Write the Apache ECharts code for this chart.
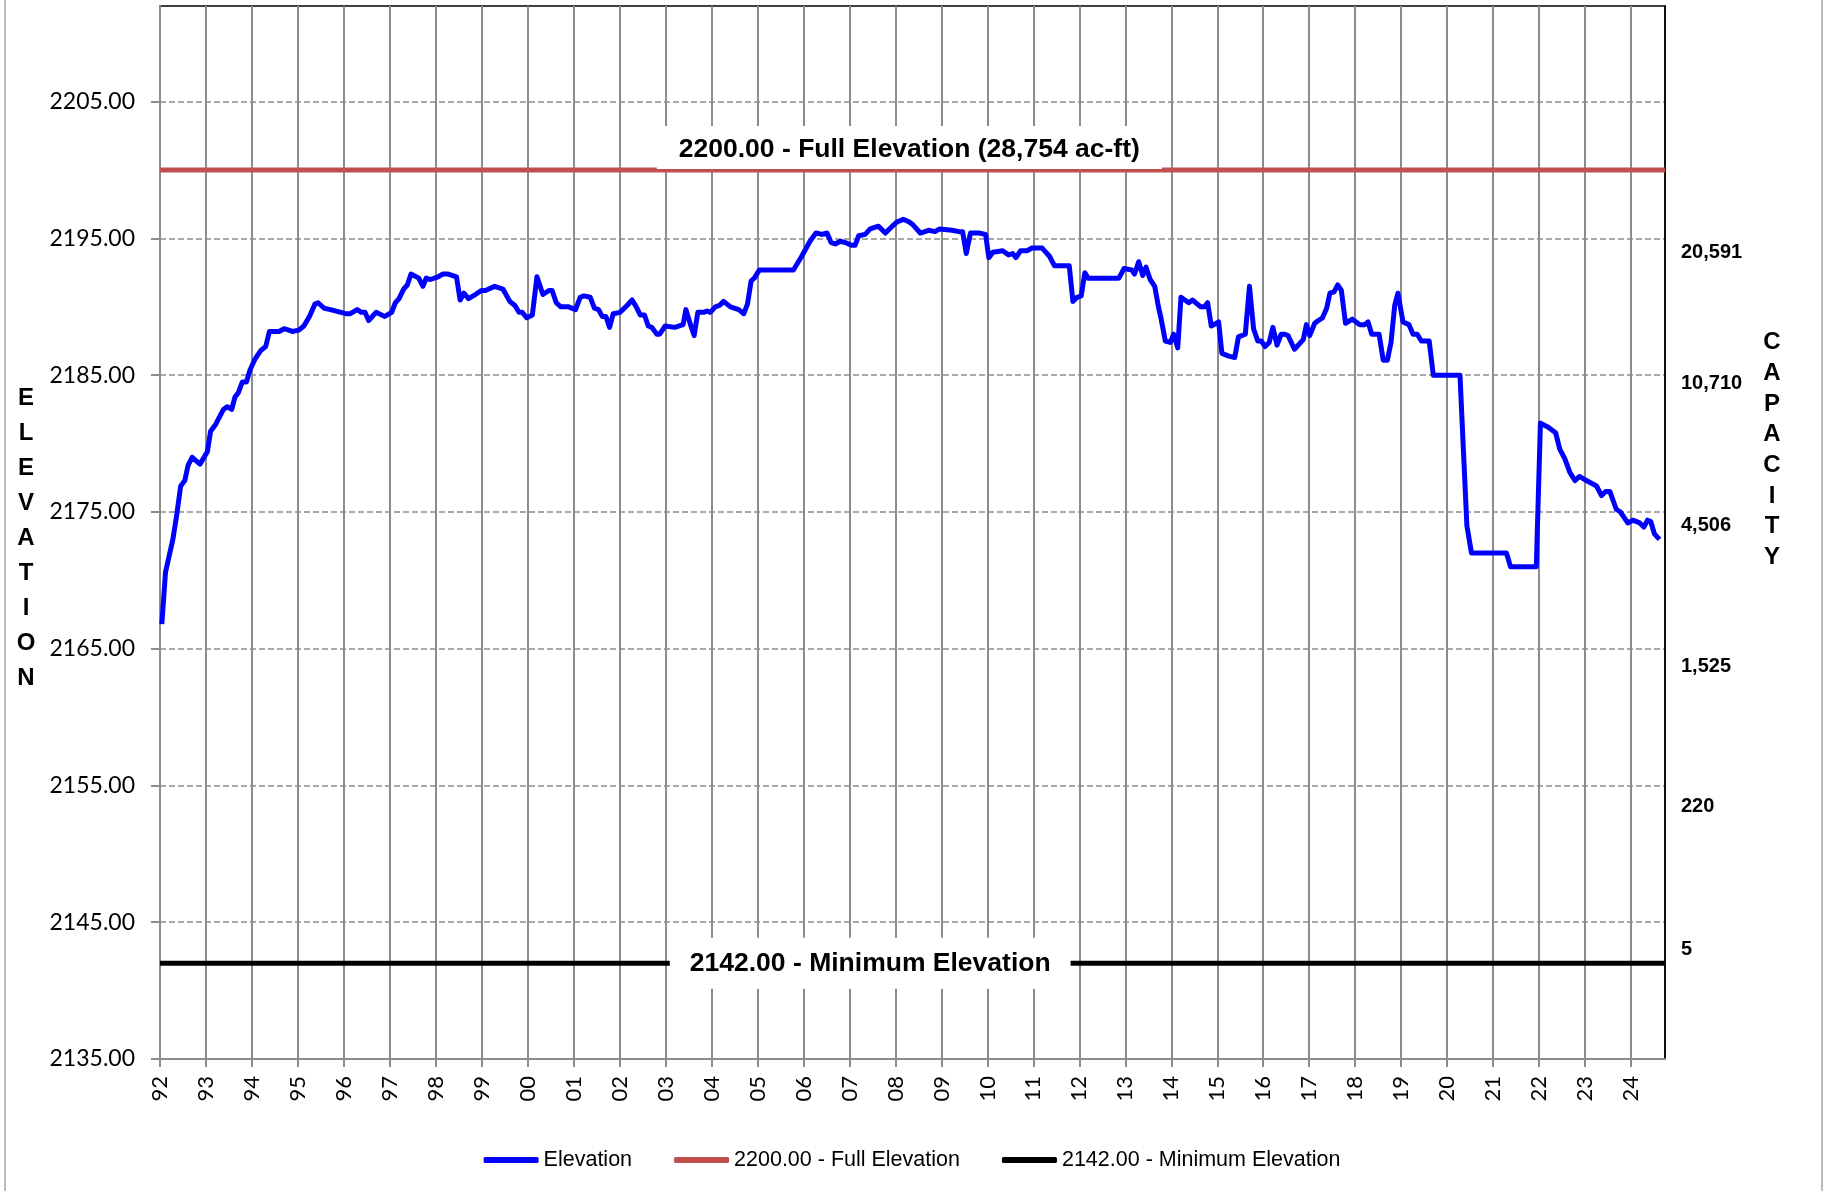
<!DOCTYPE html>
<html>
<head>
<meta charset="utf-8">
<script src="https://cdn.jsdelivr.net/npm/echarts@6/dist/echarts.min.js"></script>
<style>
html,body{margin:0;padding:0;background:#fff;}
#chart{width:1824px;height:1191px;}
</style>
</head>
<body>
<div id="chart"></div>
<script>
// ---- data ----
const years = [
1992.04,1992.12,1992.20,1992.28,1992.36,1992.45,1992.54,1992.61,1992.70,1992.87,
1993.03,1993.10,1993.21,1993.38,1993.46,1993.56,1993.63,1993.70,1993.79,1993.88,1993.96,
1994.07,1994.19,1994.30,1994.38,1994.59,1994.70,1994.88,
1995.02,1995.13,1995.25,1995.37,1995.44,1995.57,1995.71,
1996.04,1996.14,1996.29,1996.38,1996.46,1996.54,1996.70,1996.89,
1997.04,1997.12,1997.20,1997.30,1997.38,1997.46,1997.63,1997.72,1997.79,1997.88,
1998.05,1998.15,1998.27,1998.45,1998.53,1998.61,1998.71,1998.86,1998.99,
1999.08,1999.28,1999.46,1999.61,1999.72,1999.81,1999.88,1999.98,
2000.10,2000.20,2000.33,2000.46,2000.53,2000.62,2000.72,2000.89,
2001.04,2001.14,2001.22,2001.36,2001.45,2001.54,2001.62,2001.70,2001.78,2001.86,
2002.01,2002.16,2002.27,2002.36,2002.45,2002.54,2002.62,2002.70,2002.81,2002.87,2002.99,
2003.20,2003.38,2003.44,2003.54,2003.62,2003.70,2003.83,2003.90,2003.97,
2004.08,2004.17,2004.26,2004.41,2004.59,2004.70,2004.78,2004.86,2004.93,
2005.04,2005.78,2005.96,
2006.14,2006.27,2006.40,2006.51,2006.60,2006.69,2006.80,2006.91,
2007.04,2007.12,2007.20,2007.34,2007.45,2007.63,2007.78,2007.93,
2008.03,2008.17,2008.30,2008.38,2008.54,2008.72,2008.86,2008.96,
2009.23,2009.38,2009.46,2009.54,2009.63,2009.81,2009.96,
2010.03,2010.12,2010.33,2010.46,2010.55,2010.62,2010.72,2010.86,2010.97,
2011.19,2011.35,2011.46,2011.78,2011.86,2011.95,
2012.04,2012.12,2012.19,2012.86,2012.97,
2013.14,2013.20,2013.29,2013.38,2013.45,2013.54,2013.64,2013.72,2013.78,2013.87,2013.98,
2014.05,2014.14,2014.21,2014.38,2014.46,2014.64,2014.72,2014.79,2014.87,
2015.03,2015.10,2015.25,2015.38,2015.46,2015.61,2015.70,2015.79,2015.88,2015.96,
2016.04,2016.13,2016.21,2016.30,2016.39,2016.46,2016.54,2016.68,2016.87,2016.94,
2017.01,2017.12,2017.20,2017.29,2017.38,2017.45,2017.54,2017.62,2017.70,2017.79,2017.94,
2018.10,2018.21,2018.28,2018.36,2018.52,2018.61,2018.70,2018.78,2018.86,2018.93,
2019.04,2019.17,2019.26,2019.35,2019.44,2019.61,2019.70,
2020.28,2020.43,2020.53,
2021.29,2021.38,2021.94,
2022.03,2022.20,2022.36,2022.45,2022.56,2022.67,2022.78,2022.88,
2023.03,2023.25,2023.36,2023.45,2023.54,2023.68,2023.77,2023.93,
2024.04,2024.19,2024.28,2024.36,2024.43,2024.51,2024.62
];
const elevations = [
2166.8,2170.6,2171.8,2173.0,2174.7,2176.9,2177.3,2178.4,2179.0,2178.5,
2179.4,2180.9,2181.4,2182.5,2182.7,2182.5,2183.4,2183.7,2184.5,2184.5,2185.4,
2186.2,2186.8,2187.1,2188.2,2188.2,2188.4,2188.2,
2188.3,2188.6,2189.3,2190.2,2190.3,2189.9,2189.8,
2189.5,2189.5,2189.8,2189.6,2189.6,2189.0,2189.6,2189.3,
2189.6,2190.3,2190.6,2191.3,2191.6,2192.4,2192.1,2191.5,2192.1,2192.0,
2192.2,2192.4,2192.4,2192.2,2190.5,2191.0,2190.6,2190.9,2191.2,
2191.2,2191.5,2191.3,2190.4,2190.1,2189.6,2189.6,2189.2,
2189.4,2192.2,2190.9,2191.2,2191.2,2190.3,2190.0,2190.0,
2189.8,2190.7,2190.8,2190.7,2189.9,2189.8,2189.3,2189.3,2188.5,2189.5,
2189.6,2190.1,2190.5,2190.0,2189.4,2189.4,2188.6,2188.5,2188.0,2188.0,2188.6,
2188.5,2188.7,2189.8,2188.7,2187.9,2189.6,2189.6,2189.7,2189.6,
2190.0,2190.1,2190.4,2190.0,2189.8,2189.5,2190.2,2191.9,2192.1,
2192.7,2192.7,2193.7,
2194.8,2195.4,2195.3,2195.4,2194.7,2194.6,2194.8,2194.7,
2194.5,2194.5,2195.2,2195.3,2195.7,2195.9,2195.4,2195.9,
2196.2,2196.4,2196.2,2196.0,2195.4,2195.6,2195.5,2195.7,
2195.6,2195.5,2195.5,2193.9,2195.4,2195.4,2195.3,
2193.6,2194.0,2194.1,2193.8,2193.9,2193.6,2194.1,2194.1,2194.3,
2194.3,2193.7,2193.0,2193.0,2190.4,2190.7,
2190.8,2192.5,2192.1,2192.1,2192.8,
2192.7,2192.4,2193.3,2192.3,2192.9,2192.0,2191.5,2190.0,2189.1,2187.5,2187.4,
2188.0,2187.0,2190.7,2190.3,2190.5,2190.0,2190.0,2190.3,2188.6,
2188.9,2186.6,2186.4,2186.3,2187.8,2188.0,2191.5,2188.4,2187.5,2187.5,
2187.1,2187.4,2188.5,2187.2,2188.0,2188.0,2187.9,2186.9,2187.6,2188.7,
2187.9,2188.8,2189.0,2189.2,2189.9,2191.0,2191.1,2191.6,2191.2,2188.8,2189.1,
2188.7,2188.7,2188.9,2188.0,2188.0,2186.1,2186.1,2187.4,2190.1,2191.0,
2188.9,2188.7,2188.0,2188.0,2187.5,2187.5,2185.0,
2185.0,2174.0,2172.0,
2172.0,2171.0,2171.0,
2181.5,2181.2,2180.8,2179.6,2178.9,2177.9,2177.3,2177.6,
2177.3,2176.9,2176.2,2176.5,2176.5,2175.2,2175.0,2174.2,
2174.4,2174.2,2173.9,2174.4,2174.3,2173.4,2173.0
];
const xMin = 1992, xMax = 2024.74, xStep = 1;
const yMin = 2135, yMax = 2212, yStep = 10;
const fullElevation = 2200;
const minElevation = 2142;
const fullName = '2200.00 - Full Elevation';
const minName = '2142.00 - Minimum Elevation';
const fullLabelText = '2200.00 - Full Elevation (28,754 ac-ft)';
const minLabelText = '2142.00 - Minimum Elevation';
const fullLabelYear = 2008.3;
const minLabelYear = 2007.45;
const capacityElev = [2194.0, 2184.4, 2174.0, 2163.7, 2153.5, 2143.0];
const capacityLabels = ['20,591', '10,710', '4,506', '1,525', '220', '5'];

// ---- chart ----
const chart = echarts.init(document.getElementById('chart'), null, {renderer: 'canvas'});
const gridGray = '#8c8c8c';
const elevData = years.map((y, i) => [y, elevations[i]]);

const option = {
  animation: false,
  backgroundColor: '#fff',
  grid: {left: 160, right: 159, top: 6, bottom: 132, show: true, borderColor: '#000', borderWidth: 1.5, backgroundColor: 'transparent'},
  legend: {
    data: ['Elevation', fullName, minName],
    left: 'center', top: 1144,
    icon: 'roundRect', itemWidth: 55, itemHeight: 6, itemGap: 42,
    textStyle: {fontFamily: 'Liberation Sans', fontSize: 21.5, color: '#000'}
  },
  xAxis: {
    type: 'value', min: xMin, max: xMax, interval: xStep,
    axisLine: {show: true, lineStyle: {color: gridGray, width: 2}},
    axisTick: {show: true, length: 8, lineStyle: {color: gridGray, width: 2}},
    axisLabel: {
      rotate: 90, margin: 17, fontFamily: 'Lato', fontSize: 22, color: '#000',
      showMaxLabel: false,
      formatter: v => String(Math.round(v) % 100).padStart(2, '0')
    },
    splitLine: {show: true, showMinLine: false, showMaxLine: false, lineStyle: {color: gridGray, width: 2, type: 'solid'}}
  },
  yAxis: [{
    type: 'value', min: yMin, max: yMax, interval: yStep, position: 'left',
    axisLine: {show: true, lineStyle: {color: gridGray, width: 2}},
    axisTick: {show: true, length: 9, lineStyle: {color: gridGray, width: 2}},
    axisLabel: {
      margin: 25, fontFamily: 'Lato', fontSize: 23, color: '#000', showMaxLabel: false,
      formatter: v => v.toFixed(2)
    },
    splitLine: {show: true, showMinLine: false, showMaxLine: false, lineStyle: {color: gridGray, width: 1.5, type: [6, 3]}}
  }, {
    type: 'value', min: yMin, max: yMax, position: 'right',
    axisLine: {show: true, lineStyle: {color: '#000', width: 1.5}},
    axisTick: {show: false},
    splitLine: {show: false},
    axisLabel: {
      customValues: capacityElev, margin: 16,
      fontFamily: 'Liberation Sans', fontWeight: 'bold', fontSize: 20, color: '#000',
      formatter: v => {
        let best = 0;
        capacityElev.forEach((e, i) => { if (Math.abs(e - v) < Math.abs(capacityElev[best] - v)) best = i; });
        return capacityLabels[best];
      }
    }
  }],
  series: [
    {
      name: 'Elevation', type: 'line', data: elevData, showSymbol: false, symbol: 'none',
      lineStyle: {color: '#0000ff', width: 5, join: 'round'}, itemStyle: {color: '#0000ff'}, z: 5
    },
    {
      name: fullName, type: 'line', data: [[xMin, fullElevation], [xMax, fullElevation]], showSymbol: false, symbol: 'none',
      lineStyle: {color: '#c0504d', width: 5}, itemStyle: {color: '#c0504d'}, z: 4
    },
    {
      name: minName, type: 'line', data: [[xMin, minElevation], [xMax, minElevation]], showSymbol: false, symbol: 'none',
      lineStyle: {color: '#000', width: 5}, itemStyle: {color: '#000'}, z: 4
    },
    {
      type: 'scatter', silent: true, symbolSize: 0, z: 10,
      itemStyle: {opacity: 1},
      emphasis: {disabled: true},
      data: [
        {value: [fullLabelYear, fullElevation], label: {
          show: true, position: 'top', distance: 1, formatter: fullLabelText,
          fontFamily: 'Liberation Sans', fontWeight: 'bold', fontSize: 26.5, color: '#000',
          backgroundColor: '#fff', padding: [10, 22, 6, 22]
        }},
        {value: [minLabelYear, minElevation], label: {
          show: true, position: 'inside', formatter: minLabelText,
          fontFamily: 'Liberation Sans', fontWeight: 'bold', fontSize: 26.5, color: '#000',
          backgroundColor: '#fff', padding: [12, 20, 12, 20]
        }}
      ]
    }
  ],
  graphic: [
    {type: 'line', shape: {x1: 5, y1: 0, x2: 5, y2: 1191}, style: {stroke: '#a6a6a6', lineWidth: 1.5}},
    {type: 'line', shape: {x1: 1822, y1: 0, x2: 1822, y2: 1191}, style: {stroke: '#a6a6a6', lineWidth: 1.5}},
    {type: 'text', x: 26, y: 538, style: {
      text: 'E\nL\nE\nV\nA\nT\nI\nO\nN', font: 'bold 24px "Liberation Sans"', lineHeight: 35,
      align: 'center', verticalAlign: 'middle', fill: '#000'
    }},
    {type: 'text', x: 1772, y: 450, style: {
      text: 'C\nA\nP\nA\nC\nI\nT\nY', font: 'bold 24px "Liberation Sans"', lineHeight: 30.7,
      align: 'center', verticalAlign: 'middle', fill: '#000'
    }}
  ]
};
chart.setOption(option);
</script>
</body>
</html>
